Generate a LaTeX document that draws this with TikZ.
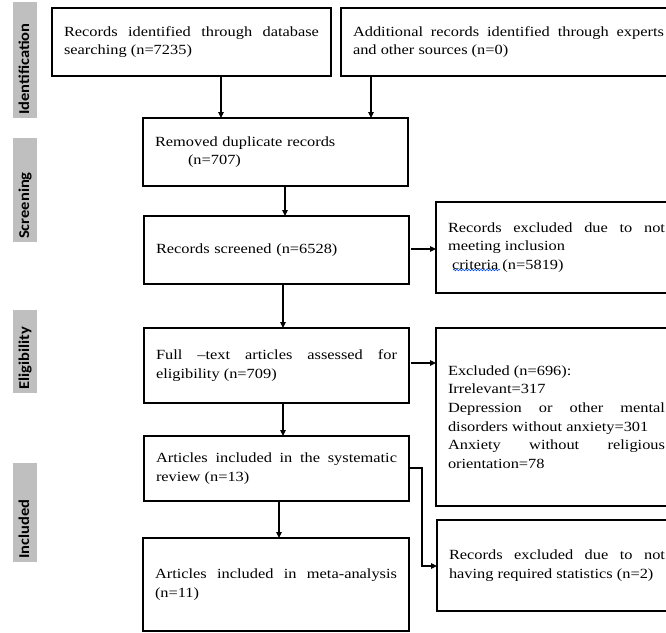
\documentclass[tikz,border=0pt]{standalone}
\usepackage{fontspec}
\setmainfont{Liberation Serif}
\newfontfamily\serifw[FakeStretch=1.17,Ligatures=TeX]{Liberation Serif}
\newfontfamily\labfont[FakeStretch=1.1]{Carlito}
\usetikzlibrary{arrows.meta,decorations.pathmorphing}
\begin{document}
\begin{tikzpicture}[x=1pt,y=-1pt,
  box/.style={draw, line width=1.8pt, inner xsep=12pt, inner ysep=0pt, outer sep=0pt,
    anchor=north west, align=justify, font=\serifw\fontsize{14}{18.6}\selectfont},
  arr/.style={line width=1.1pt, -{Triangle[length=6pt,width=5.5pt]}},
  lab/.style={rotate=90, anchor=base west, inner sep=0pt, font=\labfont\bfseries\fontsize{15}{15}\selectfont},
  labbg/.style={fill=black!25}]
\useasboundingbox (0,0) rectangle (666,632);
\fill[white] (0,0) rectangle (666,632);
\clip (0,0) rectangle (666,632);

% side labels
\fill[labbg] (13,2) rectangle (37,118);
\node[lab] (lid) at (29,115) {Identification};
\fill[labbg] (13,138) rectangle (37,242);
\node[lab] (lsc) at (29,239) {Screening};
\fill[labbg] (13,310) rectangle (37,393);
\node[lab] (lel) at (29,390) {Eligibility};
\fill[labbg] (13,463) rectangle (37,562);
\node[lab] (lin) at (29,559) {Included};

% boxes
\node[box, text width=255pt, minimum height=68pt] (b1) at (52,8)
  {Records identified through database\linebreak searching (n=7235)};
\node[box, text width=311pt, minimum height=68pt] (b2) at (341,8)
  {Additional records identified through experts\linebreak and other sources (n=0)};
\node[box, text width=241pt, minimum height=68pt, align=left] (b3) at (143,118)
  {Removed duplicate records\\\hspace*{33pt}(n=707)};
\node[box, text width=241pt, minimum height=68pt, align=left] (b4) at (144,216)
  {Records screened (n=6528)};
\node[box, text width=217pt, minimum height=91pt] (b5) at (436,202)
  {Records excluded due to not\linebreak meeting inclusion\\\hspace*{4pt}criteria (n=5819)};
\node[box, text width=241pt, minimum height=75pt] (b6) at (144,328)
  {Full –text articles assessed for\linebreak eligibility (n=709)};
\node[box, text width=217pt, minimum height=178pt] (b7) at (436,328)
  {Excluded (n=696):\\Irrelevant=317\\Depression or other mental\linebreak disorders without anxiety=301\\Anxiety without religious\linebreak orientation=78};
\node[box, text width=241pt, minimum height=65pt] (b8) at (144,436)
  {Articles included in the systematic\linebreak review (n=13)};
\node[box, text width=242pt, minimum height=93pt] (b9) at (143,538)
  {Articles included in meta-analysis\linebreak (n=11)};
\node[box, text width=216pt, minimum height=91pt] (b10) at (437,520)
  {Records excluded due to not\linebreak having required statistics (n=2)};

% spell-check underline
\draw[blue!70!cyan, line width=0.6pt, decorate, decoration={snake, amplitude=0.8pt, segment length=3pt}]
  (453,270) -- (500,270);

% connector guides
\coordinate (x1) at (221,0);
\coordinate (x2) at (371,0);
\coordinate (x3) at (285,0);
\coordinate (x4) at (283,0);
\coordinate (x5) at (279,0);
\coordinate (y1) at (0,249);
\coordinate (y2) at (0,363);
\coordinate (e1) at (422,468);
\coordinate (e2) at (422,566);

% connectors
\draw[arr] (b1.south -| x1) -- (b3.north -| x1);
\draw[arr] (b2.south -| x2) -- (b3.north -| x2);
\draw[arr] (b3.south -| x3) -- (b4.north -| x3);
\draw[arr] (b4.south -| x4) -- (b6.north -| x4);
\draw[arr] (b6.south -| x4) -- (b8.north -| x4);
\draw[arr] (b8.south -| x5) -- (b9.north -| x5);
\draw[arr, shorten <=2pt] (b4.east |- y1) -- (b5.west |- y1);
\draw[arr, shorten <=2pt] (b6.east |- y2) -- (b7.west |- y2);
\draw[arr] (b8.east |- e1) -- (e1) -- (e2) -- (b10.west |- e2);
\end{tikzpicture}
\end{document}
